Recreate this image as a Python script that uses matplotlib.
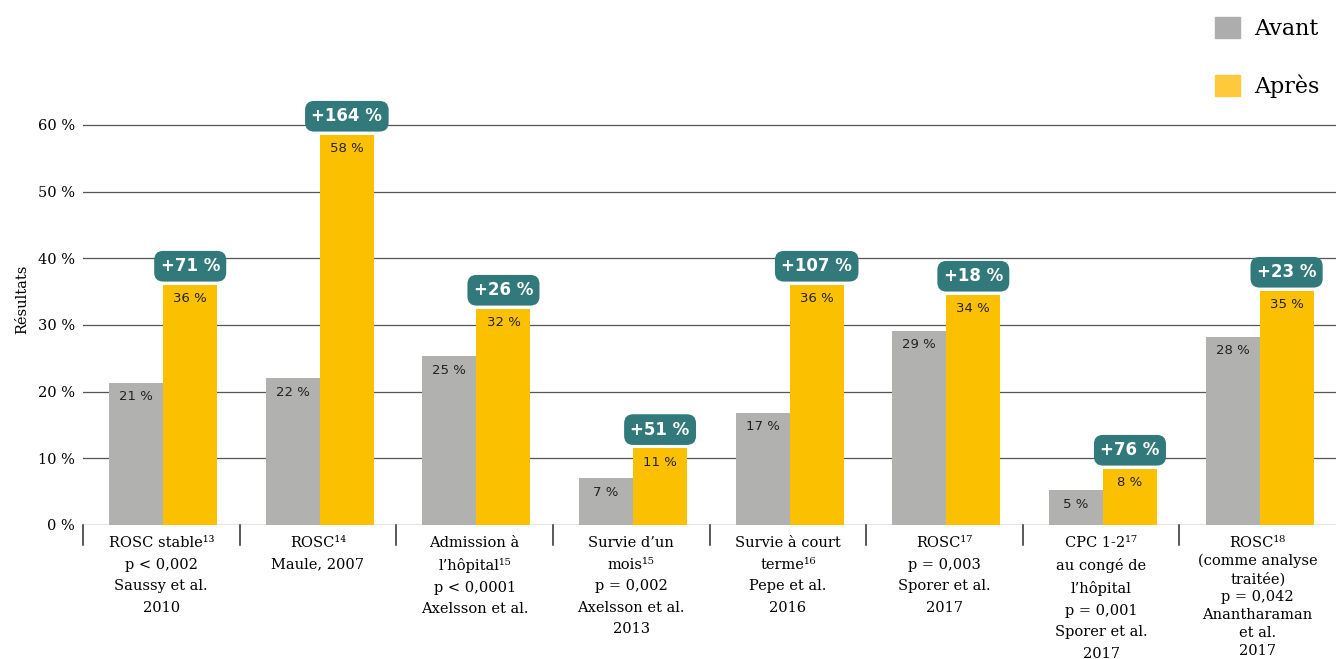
import matplotlib
matplotlib.use('Agg')
import matplotlib.pyplot as plt
import matplotlib.transforms as mtransforms
from matplotlib.patches import Patch
import numpy as np

# data
categories = [
    'ROSC stable¹³\np < 0,002\nSaussy et al.\n2010',
    'ROSC¹⁴\nMaule, 2007',
    'Admission à\nl\u2019hôpital¹⁵\np < 0,0001\nAxelsson et al.',
    'Survie d\u2019un\nmois¹⁵\np = 0,002\nAxelsson et al.\n2013',
    'Survie à court\nterme¹⁶\nPepe et al.\n2016',
    'ROSC¹⁷\np = 0,003\nSporer et al.\n2017',
    'CPC 1-2¹⁷\nau congé de\nl\u2019hôpital\np = 0,001\nSporer et al.\n2017',
    'ROSC¹⁸\n(comme analyse\ntraitée)\np = 0,042\nAnantharaman\net al.\n2017',
]
avant = [21.3, 22.0, 25.3, 7.0, 16.8, 29.1, 5.2, 28.2]
apres = [36.0, 58.5, 32.4, 11.5, 36.0, 34.5, 8.4, 35.1]
avant_labels = ['21 %', '22 %', '25 %', '7 %', '17 %', '29 %', '5 %', '28 %']
apres_labels = ['36 %', '58 %', '32 %', '11 %', '36 %', '34 %', '8 %', '35 %']
gains = ['+71 %', '+164 %', '+26 %', '+51 %', '+107 %', '+18 %', '+76 %', '+23 %']
yticks = [0, 10, 20, 30, 40, 50, 60]

GRAY = '#b1b1b0'
YELLOW = '#fbc100'
TEAL = '#31797a'
SERIF = 'DejaVu Serif'

W, H = 1336, 659
fig = plt.figure(figsize=(W / 100, H / 100), dpi=100)
ax = fig.add_axes([83 / W, 134 / H, 1253 / W, 525 / H])

x = np.arange(len(categories))
bw = 0.345
ax.bar(x - bw / 2 + 0.012, avant, bw, color=GRAY, zorder=2)
ax.bar(x + bw / 2 + 0.012, apres, bw, color=YELLOW, zorder=2)

ax.set_xlim(-0.5, len(categories) - 0.5)
ax.set_ylim(0, 78.75)

# gridlines
for t in yticks:
    ax.axhline(t, color='#2b2b2b' if t == 0 else '#555555', lw=0.9, zorder=1)

for s in ax.spines.values():
    s.set_visible(False)

ax.set_yticks(yticks)
ax.set_yticklabels(['%d %%' % t for t in yticks], fontsize=10.5, family=SERIF)
ax.tick_params(axis='y', length=0, pad=6)
ax.set_ylabel('Résultats', fontsize=10.5, family=SERIF)
ax.yaxis.set_label_coords(-0.043, 0.43)

ax.set_xticks(x)
ax.set_xticklabels(categories, fontsize=10.5, family=SERIF, linespacing=1.68, va='top')
ax.tick_params(axis='x', length=0, pad=8)
# the last label is squeezed to fit
ax.get_xticklabels()[-1].set_linespacing(1.34)

# category dividers below the axis
trans = mtransforms.blended_transform_factory(ax.transData, ax.transAxes)
for b in np.arange(-0.5, len(categories) - 0.5, 1):
    ax.plot([b, b], [0, -0.038], color='#2b2b2b', lw=1.1, transform=trans, clip_on=False)

# value labels inside bars and gain badges
for i in range(len(categories)):
    ax.annotate(avant_labels[i], (x[i] - bw / 2 + 0.012, avant[i]), xytext=(0, -10),
                textcoords='offset points', ha='center', va='center',
                fontsize=9.5, color='#222222', zorder=3)
    ax.annotate(apres_labels[i], (x[i] + bw / 2 + 0.012, apres[i]), xytext=(0, -10),
                textcoords='offset points', ha='center', va='center',
                fontsize=9.5, color='#222222', zorder=3)
    ax.annotate(gains[i], (x[i] + bw / 2 + 0.012, apres[i]), xytext=(0, 13.5),
                textcoords='offset points', ha='center', va='center',
                fontsize=12, fontweight='heavy', color='white', zorder=4,
                bbox=dict(boxstyle='round,pad=0.38,rounding_size=0.55', fc=TEAL, ec='none'))

handles = [Patch(color='#adadad', label='Avant'), Patch(color='#fec93a', label='Après')]
fig.legend(handles=handles, loc='upper right', bbox_to_anchor=(1.0, 1.0), frameon=False,
           prop={'family': SERIF, 'size': 16}, handlelength=1.1, handleheight=1.1,
           labelspacing=1.55, handletextpad=0.65, borderaxespad=0.35)

fig.savefig('out.png', dpi=100)
